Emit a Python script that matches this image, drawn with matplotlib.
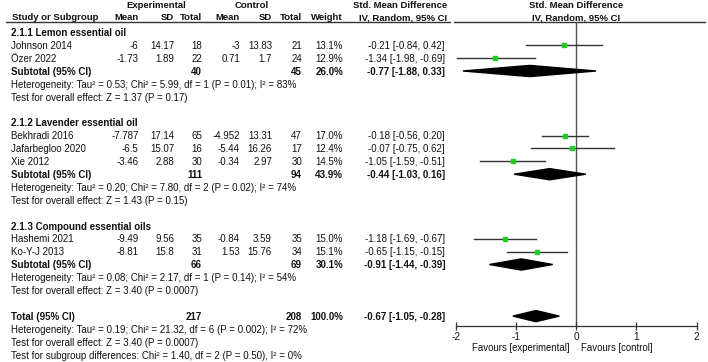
import matplotlib
matplotlib.use("Agg")
import matplotlib.pyplot as plt

plt.rcParams['font.family'] = ['Liberation Sans', 'DejaVu Sans']

# ---------------- data ----------------
groups = ["2.1.1 Lemon essential oil", "2.1.2 Lavender essential oil", "2.1.3 Compound essential oils"]
studies = [["Johnson 2014", "Özer 2022"],
           ["Bekhradi 2016", "Jafarbegloo 2020", "Xie 2012"],
           ["Hashemi 2021", "Ko-Y-J 2013"]]
exp_mean = [[-6, -1.73], [-7.787, -6.5, -3.46], [-9.49, -8.81]]
exp_sd = [[14.17, 1.89], [17.14, 15.07, 2.88], [9.56, 15.8]]
exp_n = [[18, 22], [65, 16, 30], [35, 31]]
ctl_mean = [[-3, 0.71], [-4.952, -5.44, -0.34], [-0.84, 1.53]]
ctl_sd = [[13.83, 1.7], [13.31, 16.26, 2.97], [3.59, 15.76]]
ctl_n = [[21, 24], [47, 17, 30], [35, 34]]
weight = [[13.1, 12.9], [17.0, 12.4, 14.5], [15.0, 15.1]]
smd = [[-0.21, -1.34], [-0.18, -0.07, -1.05], [-1.18, -0.65]]
ci_lo = [[-0.84, -1.98], [-0.56, -0.75, -1.59], [-1.69, -1.15]]
ci_hi = [[0.42, -0.69], [0.20, 0.62, -0.51], [-0.67, -0.15]]

sub_exp_n = [40, 111, 66]
sub_ctl_n = [45, 94, 69]
sub_weight = [26.0, 43.9, 30.1]
sub_smd = [-0.77, -0.44, -0.91]
sub_lo = [-1.88, -1.03, -1.44]
sub_hi = [0.33, 0.16, -0.39]
sub_het = ["Heterogeneity: Tau² = 0.53; Chi² = 5.99, df = 1 (P = 0.01); I² = 83%",
           "Heterogeneity: Tau² = 0.20; Chi² = 7.80, df = 2 (P = 0.02); I² = 74%",
           "Heterogeneity: Tau² = 0.08; Chi² = 2.17, df = 1 (P = 0.14); I² = 54%"]
sub_test = ["Test for overall effect: Z = 1.37 (P = 0.17)",
            "Test for overall effect: Z = 1.43 (P = 0.15)",
            "Test for overall effect: Z = 3.40 (P = 0.0007)"]

tot_exp_n = 217
tot_ctl_n = 208
tot_weight = 100.0
tot_smd = -0.67
tot_lo = -1.05
tot_hi = -0.28
tot_lines = ["Heterogeneity: Tau² = 0.19; Chi² = 21.32, df = 6 (P = 0.002); I² = 72%",
             "Test for overall effect: Z = 3.40 (P = 0.0007)",
             "Test for subgroup differences: Chi² = 1.40, df = 2 (P = 0.50), I² = 0%"]

x_ticks = [-2, -1, 0, 1, 2]
fav_left = "Favours [experimental]"
fav_right = "Favours [control]"

# ---------------- layout ----------------
W, H = 708, 362
fig = plt.figure(figsize=(W / 100, H / 100), dpi=100)
ax = fig.add_axes([0, 0, 1, 1])
ax.set_xlim(0, W)
ax.set_ylim(H, 0)
ax.axis('off')

FS = 7.0
HFS = 6.8
Y0, DY = 32.3, 12.9
TXT_OFF = 0.8
def ry(i):
    return Y0 + DY * i

X_NAME = 11
X_EM, X_ESD, X_EN = 138.5, 174, 202
X_CM, X_CSD, X_CN = 240, 272, 302
X_W, X_CI = 343, 445
PX_L, PX_R = 455.7, 696.7
AX_TOP, AX_BOT = 21.5, 326

fx = fig.add_axes([PX_L / W, (H - AX_BOT) / H, (PX_R - PX_L) / W, (AX_BOT - AX_TOP) / H])
fx.set_xlim(-2, 2)
fx.set_ylim(AX_BOT, AX_TOP)
fx.patch.set_alpha(0)
for s in ['left', 'right', 'top']:
    fx.spines[s].set_visible(False)
fx.spines['bottom'].set_color('#333333')
fx.spines['bottom'].set_linewidth(0.9)
fx.set_yticks([])
fx.set_xticks(x_ticks)
fx.set_xticklabels([str(t) for t in x_ticks])
fx.tick_params(axis='x', direction='inout', length=6, width=0.9, color='#333333',
               labelsize=7.2, pad=1.5, labelcolor='#111111')
fx.axvline(0, color='#555555', lw=1.0, zorder=1)

def t(x, y, s, ha='left', bold=False, size=FS):
    ax.text(x, y + TXT_OFF, s, ha=ha, va='center', fontsize=size,
            fontweight='bold' if bold else 'normal', color='#111111')

# headers
t(156, 5, "Experimental", ha='center', bold=True, size=HFS)
t(252, 5, "Control", ha='center', bold=True, size=HFS)
t(400, 5, "Std. Mean Difference", ha='center', bold=True, size=HFS)
t(576, 5, "Std. Mean Difference", ha='center', bold=True, size=HFS)
hy = 17
t(12, hy, "Study or Subgroup", bold=True, size=HFS)
for xx, s in [(X_EM, "Mean"), (X_ESD, "SD"), (X_EN, "Total"), (X_CM, "Mean"),
              (X_CSD, "SD"), (X_CN, "Total"), (X_W, "Weight")]:
    t(xx, hy, s, ha='right', bold=True, size=HFS)
t(403, hy, "IV, Random, 95% CI", ha='center', bold=True, size=HFS)
t(576, hy, "IV, Random, 95% CI", ha='center', bold=True, size=HFS)
ax.plot([6, 450], [21.5, 21.5], color='#333333', lw=1.0)
ax.plot([454, 705], [21.5, 21.5], color='#333333', lw=1.0)

def diamond(y, c, lo, hi, h=5.6):
    fx.fill([lo, c, hi, c], [y, y - h, y, y + h], color='black', zorder=3, clip_on=False)

row = 0
for g in range(len(groups)):
    t(X_NAME, ry(row), groups[g], bold=True)
    row += 1
    for k in range(len(studies[g])):
        y = ry(row)
        t(X_NAME, y, studies[g][k])
        t(X_EM, y, f"{exp_mean[g][k]:g}", ha='right')
        t(X_ESD, y, f"{exp_sd[g][k]:g}", ha='right')
        t(X_EN, y, f"{exp_n[g][k]}", ha='right')
        t(X_CM, y, f"{ctl_mean[g][k]:g}", ha='right')
        t(X_CSD, y, f"{ctl_sd[g][k]:g}", ha='right')
        t(X_CN, y, f"{ctl_n[g][k]}", ha='right')
        t(X_W, y, f"{weight[g][k]:.1f}%", ha='right')
        t(X_CI, y, f"{smd[g][k]:.2f} [{ci_lo[g][k]:.2f}, {ci_hi[g][k]:.2f}]", ha='right')
        fx.plot([ci_lo[g][k], ci_hi[g][k]], [y, y], color='#333333', lw=1.0, zorder=2,
                clip_on=False)
        fx.plot([smd[g][k]], [y], marker='s', ms=2.6 + 0.05 * weight[g][k],
                color='#22cc22', mec='#22cc22', zorder=4, clip_on=False)
        row += 1
    y = ry(row)
    t(X_NAME, y, "Subtotal (95% CI)", bold=True)
    t(X_EN, y, f"{sub_exp_n[g]}", ha='right', bold=True)
    t(X_CN, y, f"{sub_ctl_n[g]}", ha='right', bold=True)
    t(X_W, y, f"{sub_weight[g]:.1f}%", ha='right', bold=True)
    t(X_CI, y, f"{sub_smd[g]:.2f} [{sub_lo[g]:.2f}, {sub_hi[g]:.2f}]", ha='right', bold=True)
    diamond(y, sub_smd[g], sub_lo[g], sub_hi[g])
    row += 1
    t(X_NAME, ry(row), sub_het[g])
    row += 1
    t(X_NAME, ry(row), sub_test[g])
    row += 2

y = ry(row)
t(X_NAME, y, "Total (95% CI)", bold=True)
t(X_EN, y, f"{tot_exp_n}", ha='right', bold=True)
t(X_CN, y, f"{tot_ctl_n}", ha='right', bold=True)
t(X_W, y, f"{tot_weight:.1f}%", ha='right', bold=True)
t(X_CI, y, f"{tot_smd:.2f} [{tot_lo:.2f}, {tot_hi:.2f}]", ha='right', bold=True)
diamond(y, tot_smd, tot_lo, tot_hi)
row += 1
for s in tot_lines:
    t(X_NAME, ry(row), s)
    row += 1

t(570, 347, fav_left, ha='right', size=6.9)
t(581, 347, fav_right, ha='left', size=6.9)

fig.savefig("out.png", dpi=100)
